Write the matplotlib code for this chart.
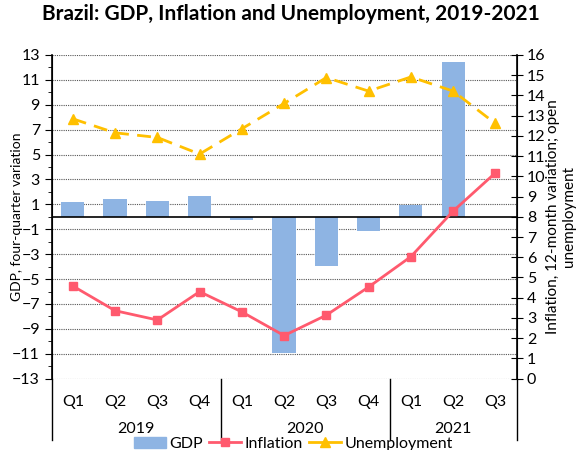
import matplotlib
matplotlib.use("Agg")
import matplotlib.pyplot as plt
from matplotlib.lines import Line2D
from matplotlib.patches import Patch

plt.rcParams['font.family'] = ['Lato', 'DejaVu Sans']

quarters = ["Q1", "Q2", "Q3", "Q4", "Q1", "Q2", "Q3", "Q4", "Q1", "Q2", "Q3"]
years = ["2019", "2020", "2021"]
year_counts = [4, 4, 3]
gdp = [1.15, 1.44, 1.28, 1.63, -0.27, -10.9, -3.93, -1.15, 0.94, 12.41, None]
inflation = [4.58, 3.36, 2.90, 4.30, 3.30, 2.13, 3.14, 4.53, 6.03, 8.28, 10.17]
unemployment = [12.84, 12.15, 11.92, 11.10, 12.35, 13.60, 14.88, 14.21, 14.91, 14.21, 12.61]

bar_color = '#8EB4E3'
infl_color = '#FF5A6E'
unemp_color = '#FFC000'

fig = plt.figure(figsize=(5.81, 4.5), dpi=100)
ax = fig.add_axes([0.089, 0.1585, 0.80, 0.7195])
ax2 = ax.twinx()

x = list(range(len(quarters)))
bx = [i for i, v in enumerate(gdp) if v is not None]
bv = [v for v in gdp if v is not None]
ax.bar(bx, bv, width=0.55, color=bar_color, zorder=2)

ax.set_ylim(-13, 13)
ax.set_yticks(range(-13, 14, 2))
ax.set_yticks(range(-12, 13, 2), minor=True)
ax.set_xlim(-0.5, len(quarters) - 0.5)
ax.grid(axis='y', which='major', linestyle=(0, (1, 1)), color='#555555', linewidth=0.8, zorder=0)
ax.set_axisbelow(True)
ax.axhline(0, color='black', linewidth=1.2, zorder=3)

ax.set_xticks(x)
ax.set_xticklabels(quarters, fontsize=11.5)
ax.tick_params(axis='x', length=0, pad=12)
ax.tick_params(axis='y', which='major', direction='out', length=5, labelsize=11.5)
ax.tick_params(axis='y', which='minor', direction='out', length=3)
ax.set_ylabel("GDP, four-quarter variation", fontsize=10)
ax.yaxis.set_label_coords(-0.062, 0.5)

for s in ['top', 'bottom']:
    ax.spines[s].set_visible(False)
    ax2.spines[s].set_visible(False)
ax.spines['left'].set_linewidth(1.2)
ax2.spines['right'].set_linewidth(1.2)

ax2.plot(x, inflation, color=infl_color, marker='s', markersize=6, linewidth=2, zorder=4)
ax2.plot(x, unemployment, color=unemp_color, marker='^', markersize=7, linewidth=2,
         linestyle=(0, (5, 3)), zorder=4)
ax2.set_ylim(0, 16)
ax2.set_yticks(range(0, 17))
ax2.tick_params(axis='y', direction='inout', length=8, labelsize=11.5)
ax2.set_ylabel("Inflation, 12-month variation; open\nunemployment", fontsize=11,
               rotation=90, linespacing=1.15)
ax2.yaxis.set_label_coords(1.064, 0.5)

# year separators and labels
trans = ax.get_xaxis_transform()
bounds = [-0.5]
for c in year_counts:
    bounds.append(bounds[-1] + c)
for b in bounds:
    ax.add_line(Line2D([b, b], [0, -0.19], transform=trans, color='black',
                       linewidth=1, clip_on=False))
for i, yr in enumerate(years):
    ax.text((bounds[i] + bounds[i + 1]) / 2, -0.155, yr, transform=trans,
            ha='center', va='center', fontsize=11.5)

fig.suptitle("Brazil: GDP, Inflation and Unemployment, 2019-2021", fontsize=15,
             fontweight='bold', y=0.99)

handles = [Patch(color=bar_color, label='GDP'),
           Line2D([], [], color=infl_color, marker='s', markersize=6, linewidth=2, label='Inflation'),
           Line2D([], [], color=unemp_color, marker='^', markersize=7, linewidth=2, label='Unemployment')]
fig.legend(handles=handles, loc='center', bbox_to_anchor=(0.505, 0.014), ncol=3, frameon=False,
           fontsize=11.5, handlelength=2.0, columnspacing=0.4, handletextpad=0.2, borderpad=0)

fig.savefig("out.png", dpi=100)
